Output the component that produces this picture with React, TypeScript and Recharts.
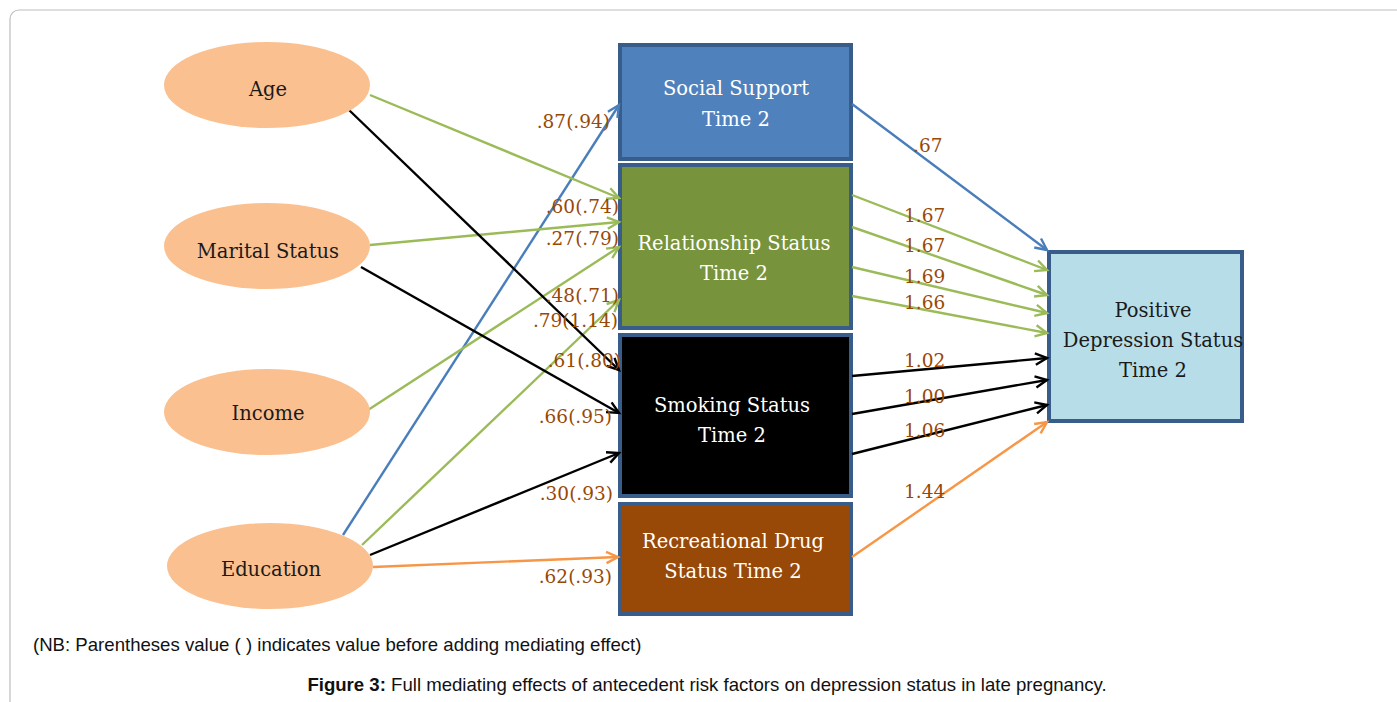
import React from 'react';
import { ScatterChart, Scatter, XAxis, YAxis, ReferenceArea, ReferenceLine } from 'recharts';

const W = 1397;
const H = 702;

// ---- content ----
const inputFactors = ['Age', 'Marital Status', 'Income', 'Education'];
const mediatorTitles = ['Social Support', 'Relationship Status', 'Smoking Status', 'Recreational Drug'];
const mediatorSubtitles = ['Time 2', 'Time 2', 'Time 2', 'Status Time 2'];
const outcomeTitle = ['Positive', 'Depression Status', 'Time 2'];
const antecedentPaths = ['.87(.94)', '.60(.74)', '.27(.79)', '.48(.71)', '.79(1.14)', '.61(.80)', '.66(.95)', '.30(.93)', '.62(.93)'];
const mediatorPaths = ['.67', '1.67', '1.67', '1.69', '1.66', '1.02', '1.00', '1.06', '1.44'];
const footnote = '(NB: Parentheses value ( ) indicates value before adding mediating effect)';
const captionLead = 'Figure 3:';
const captionText = ' Full mediating effects of antecedent risk factors on depression status in late pregnancy.';

// ---- layout (diagram coordinates) ----
const ellipseCenters = [
  { x: 267, y: 85 },
  { x: 267, y: 246 },
  { x: 267, y: 412 },
  { x: 270, y: 566 },
];
const ellipseBaselines = [96, 258, 420, 576];
const mediatorBoxes = [
  { x1: 620, x2: 851, y1: 45, y2: 159 },
  { x1: 620, x2: 851, y1: 165, y2: 328 },
  { x1: 620, x2: 851, y1: 335, y2: 496 },
  { x1: 620, x2: 851, y1: 504, y2: 614 },
];
const mediatorFills = ['#4F81BD', '#77933C', '#000000', '#984807'];
const mediatorBaselines = [[95, 126], [250, 280], [412, 442], [548, 578]];
const mediatorTextX = [736, 734, 732, 733];
const outcomeBox = { x1: 1049, x2: 1242, y1: 252, y2: 421 };
const outcomeBaselines = [317, 347, 377];
const outcomeTextX = 1153;

const BLUE = '#4A7EBB';
const GREEN = '#9BBB59';
const BLACK = '#000000';
const ORANGE = '#F79646';

const antecedentEdges = [
  { from: [343, 535], to: [619, 105], color: BLUE },
  { from: [370, 95], to: [619, 198], color: GREEN },
  { from: [370, 245], to: [619, 222], color: GREEN },
  { from: [368, 410], to: [619, 247], color: GREEN },
  { from: [362, 545], to: [619, 300], color: GREEN },
  { from: [349, 110], to: [619, 370], color: BLACK },
  { from: [361, 267], to: [619, 413], color: BLACK },
  { from: [370, 555], to: [619, 453], color: BLACK },
  { from: [373, 567], to: [618, 557], color: ORANGE },
];
const mediatorEdges = [
  { from: [852, 104], to: [1047, 250], color: BLUE },
  { from: [852, 195], to: [1047, 270], color: GREEN },
  { from: [852, 227], to: [1047, 295], color: GREEN },
  { from: [852, 267], to: [1047, 313], color: GREEN },
  { from: [852, 296], to: [1047, 333], color: GREEN },
  { from: [852, 376], to: [1047, 358], color: BLACK },
  { from: [852, 414], to: [1047, 380], color: BLACK },
  { from: [852, 454], to: [1047, 405], color: BLACK },
  { from: [852, 557], to: [1047, 422], color: ORANGE },
];
const antecedentLabelPos = [[610, 128], [619, 213], [619, 245], [619, 302], [618, 327], [621, 367], [612, 423], [613, 500], [612, 583]];
const mediatorLabelPos = [[913, 152], [904, 222], [904, 252], [904, 283], [904, 309], [904, 367], [904, 403], [904, 437], [904, 498]];

const SERIF = "'DejaVu Serif', 'Liberation Serif', serif";
const SANS = "'Liberation Sans', Arial, sans-serif";
const LABEL_COLOR = '#984807';

type TextItem = {
  x: number;
  y: number;
  text: string;
  anchor: 'start' | 'middle' | 'end';
  size: number;
  fill: string;
  family: string;
  bold?: boolean;
  caption?: boolean;
};

const textItems: TextItem[] = [
  ...inputFactors.map((t, i) => ({
    x: ellipseCenters[i].x + 1, y: ellipseBaselines[i], text: t, anchor: 'middle' as const,
    size: 19.5, fill: '#1a1a1a', family: SERIF,
  })),
  ...mediatorTitles.flatMap((t, i) => [
    { x: mediatorTextX[i], y: mediatorBaselines[i][0], text: t, anchor: 'middle' as const, size: 19.5, fill: '#ffffff', family: SERIF },
    { x: mediatorTextX[i], y: mediatorBaselines[i][1], text: mediatorSubtitles[i], anchor: 'middle' as const, size: 19.5, fill: '#ffffff', family: SERIF },
  ]),
  ...outcomeTitle.map((t, i) => ({
    x: outcomeTextX, y: outcomeBaselines[i], text: t, anchor: 'middle' as const, size: 19.5, fill: '#1a1a1a', family: SERIF,
  })),
  ...antecedentPaths.map((t, i) => ({
    x: antecedentLabelPos[i][0], y: antecedentLabelPos[i][1], text: t, anchor: 'end' as const, size: 18.5, fill: LABEL_COLOR, family: SERIF,
  })),
  ...mediatorPaths.map((t, i) => ({
    x: mediatorLabelPos[i][0], y: mediatorLabelPos[i][1], text: t, anchor: 'start' as const, size: 18.5, fill: LABEL_COLOR, family: SERIF,
  })),
  { x: 33, y: 651, text: footnote, anchor: 'start', size: 18.6, fill: '#111111', family: SANS },
  { x: 707, y: 691, text: captionText, anchor: 'middle', size: 18.6, fill: '#111111', family: SANS, caption: true },
];

const ellipseData = ellipseCenters.map((c, i) => ({ x: c.x, y: c.y, name: inputFactors[i] }));

function ArrowShape(props: any) {
  const { x1, y1, x2, y2, color } = props;
  if ([x1, y1, x2, y2].some((v) => typeof v !== 'number' || isNaN(v))) return null;
  const a = Math.atan2(y2 - y1, x2 - x1);
  const L = 13;
  const s = 0.45;
  const p1 = [x2 - L * Math.cos(a - s), y2 - L * Math.sin(a - s)];
  const p2 = [x2 - L * Math.cos(a + s), y2 - L * Math.sin(a + s)];
  return (
    <g>
      <line x1={x1} y1={y1} x2={x2} y2={y2} stroke={color} strokeWidth={2.4} />
      <polyline
        points={`${p1[0]},${p1[1]} ${x2},${y2} ${p2[0]},${p2[1]}`}
        fill="none"
        stroke={color}
        strokeWidth={2.4}
        strokeLinejoin="miter"
      />
    </g>
  );
}

function EllipseShape(props: any) {
  const { cx, cy } = props;
  if (typeof cx !== 'number' || typeof cy !== 'number') return null;
  return <ellipse cx={cx} cy={cy} rx={103} ry={43} fill="#FAC090" />;
}

function TextShape(props: any) {
  const { cx, cy, payload } = props;
  if (typeof cx !== 'number' || typeof cy !== 'number' || !payload) return null;
  const p = payload as TextItem;
  if (p.caption) {
    return (
      <text x={cx} y={cy} textAnchor="middle" fontFamily={p.family} fontSize={p.size} fill={p.fill}>
        <tspan fontWeight="bold">{captionLead}</tspan>
        <tspan>{p.text}</tspan>
      </text>
    );
  }
  return (
    <text
      x={cx}
      y={cy}
      textAnchor={p.anchor}
      fontFamily={p.family}
      fontSize={p.size}
      fill={p.fill}
      fontWeight={p.bold ? 'bold' : 'normal'}
    >
      {p.text}
    </text>
  );
}

function FrameShape(props: any) {
  const { x, y, width, height } = props;
  if ([x, y, width, height].some((v) => typeof v !== 'number' || isNaN(v))) return null;
  return <rect x={x} y={y} width={width} height={height} rx={9} ry={9} fill="none" stroke="#bdbdbd" strokeWidth={1.2} />;
}

export default function App() {
  return (
    <div style={{ width: W, height: H, overflow: 'hidden', background: '#ffffff' }}>
      <style>{'html,body{margin:0;padding:0;overflow:hidden;background:#fff;}'}</style>
      <ScatterChart width={W} height={H} margin={{ top: 0, right: 0, bottom: 0, left: 0 }}>
        <XAxis type="number" dataKey="x" domain={[0, W]} hide allowDataOverflow />
        <YAxis type="number" dataKey="y" domain={[0, H]} reversed hide allowDataOverflow />

        <ReferenceArea x1={10} x2={1420} y1={10} y2={730} ifOverflow="visible" shape={FrameShape} />

        {antecedentEdges.map((e, i) => (
          <ReferenceLine
            key={`ae${i}`}
            segment={[{ x: e.from[0], y: e.from[1] }, { x: e.to[0], y: e.to[1] }]}
            stroke={e.color}
            shape={(p: any) => <ArrowShape {...p} color={e.color} />}
          />
        ))}
        {mediatorEdges.map((e, i) => (
          <ReferenceLine
            key={`me${i}`}
            segment={[{ x: e.from[0], y: e.from[1] }, { x: e.to[0], y: e.to[1] }]}
            stroke={e.color}
            shape={(p: any) => <ArrowShape {...p} color={e.color} />}
          />
        ))}

        {mediatorBoxes.map((b, i) => (
          <ReferenceArea
            key={`mb${i}`}
            x1={b.x1}
            x2={b.x2}
            y1={b.y1}
            y2={b.y2}
            fill={mediatorFills[i]}
            fillOpacity={1}
            stroke="#385D8A"
            strokeWidth={4}
          />
        ))}
        <ReferenceArea
          x1={outcomeBox.x1}
          x2={outcomeBox.x2}
          y1={outcomeBox.y1}
          y2={outcomeBox.y2}
          fill="#B7DEE8"
          fillOpacity={1}
          stroke="#385D8A"
          strokeWidth={4}
        />

        <Scatter data={ellipseData} shape={EllipseShape} isAnimationActive={false} legendType="none" />
        <Scatter data={textItems} shape={TextShape} isAnimationActive={false} legendType="none" />
      </ScatterChart>
    </div>
  );
}
